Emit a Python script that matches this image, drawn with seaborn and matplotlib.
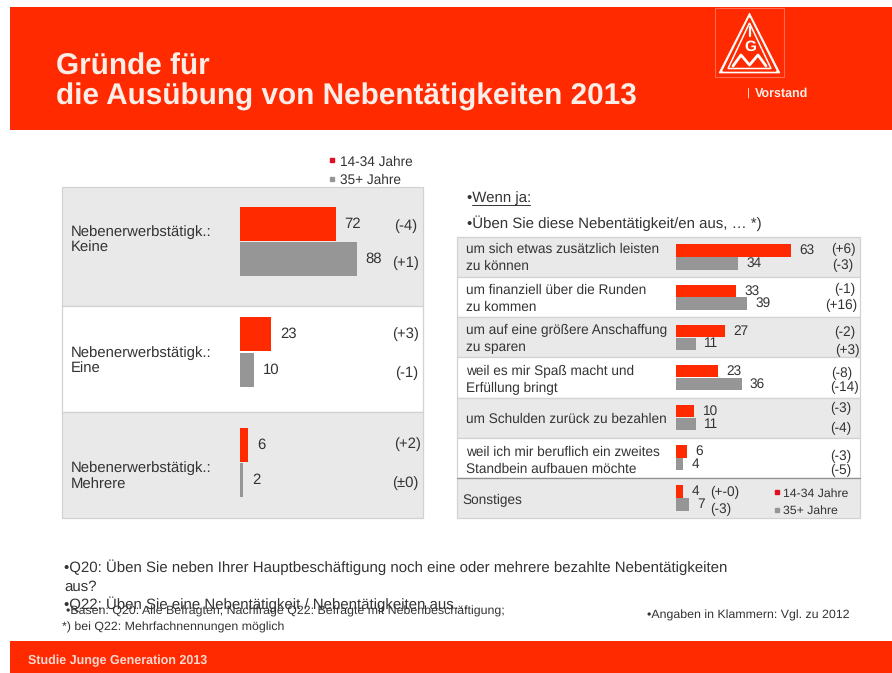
"""Gründe für die Ausübung von Nebentätigkeiten 2013 (IG Metall Folie)."""

import matplotlib
matplotlib.use("Agg")
import matplotlib.pyplot as plt
import pandas as pd
import seaborn as sns
from matplotlib.patches import Polygon, Rectangle

W, H = 892, 673
ROT = "#FF2A00"
GRAU = "#969696"
BAND = "#E9E9E9"
LINIE = "#D2D2D2"
TEXT = "#333333"

GRUPPEN = ["14-34 Jahre", "35+ Jahre"]

# Linkes Panel
links_kat = ["Keine", "Eine", "Mehrere"]
links_jung = [72, 23, 6]
links_alt = [88, 10, 2]
links_delta = ["(-4)", "(+1)", "(+3)", "(-1)", "(+2)", "(±0)"]

# Rechtes Panel
rechts_kat = [
    "um sich etwas zusätzlich leisten\nzu können",
    "um finanziell über die Runden\nzu kommen",
    "um auf eine größere Anschaffung\nzu sparen",
    "weil es mir Spaß macht und\nErfüllung bringt",
    "um Schulden zurück zu bezahlen",
    "weil ich mir beruflich ein zweites\nStandbein aufbauen möchte",
    "Sonstiges",
]
rechts_jung = [63, 33, 27, 23, 10, 6, 4]
rechts_alt = [34, 39, 11, 36, 11, 4, 7]
rechts_delta = ["(+6)", "(-3)", "(-1)", "(+16)", "(-2)", "(+3)", "(-8)", "(-14)",
                "(-3)", "(-4)", "(-3)", "(-5)", "(+-0)", "(-3)"]

# Pixelpositionen der Klammerwerte
links_delta_pos = [(405.5, 226), (405.5, 263), (405.5, 334), (407, 373), (407.5, 444), (405.5, 483)]
rechts_delta_pos = [(843, 249), (843, 265), (845, 289), (841, 305), (845, 332), (847, 350),
                    (842, 373), (845, 387), (841, 408), (841, 428), (841, 456), (841, 470),
                    (725, 492), (721, 509)]
rechts_text_y = [258, 298.5, 339, 379.5, 419.5, 460.5, 500]


def lang_tabelle(kategorien, jung, alt):
    return pd.DataFrame({
        "kategorie": list(kategorien) * 2,
        "wert": list(jung) + list(alt),
        "gruppe": [GRUPPEN[0]] * len(kategorien) + [GRUPPEN[1]] * len(kategorien),
    })


def balken(fig, df, box, px_pro_einheit, fontsize, padding):
    """Balken in ein Achsenfeld zeichnen, box in Pixeln: x0, y0, x1, y1."""
    x0, y0, x1, y1 = box
    ax = fig.add_axes([x0 / W, 1 - y1 / H, (x1 - x0) / W, (y1 - y0) / H])
    ax.patch.set_alpha(0)
    sns.barplot(
        data=df, y="kategorie", x="wert", hue="gruppe", hue_order=GRUPPEN,
        palette=[ROT, GRAU], width=0.64, gap=0.04, saturation=1,
        linewidth=0, legend=False, ax=ax,
    )
    ax.set_xlim(0, (x1 - x0) / px_pro_einheit)
    for cont in ax.containers:
        ax.bar_label(cont, fmt="%g", padding=padding, fontsize=fontsize, color=TEXT)
    ax.axis("off")
    return ax


def logo(ax):
    ax.add_patch(Rectangle((715, 8), 69, 69, fc="none", ec="#FF6A50", lw=0.8))
    ax.add_patch(Polygon([(749.5, 13), (780, 73), (719, 73)], fc="white", ec="white", lw=0.5))
    ax.add_patch(Polygon([(749.5, 18), (776, 71), (723, 71)], fc=ROT, ec=ROT))
    ax.add_patch(Polygon([(749.5, 23), (771, 68.5), (728, 68.5)], fc="none", ec="white", lw=1.1))
    ax.plot([749.5, 749.5], [27, 36], color="white", lw=1.6)
    ax.text(750, 47, "G", color="white", fontsize=11, fontweight="bold", ha="center", va="center")
    ax.plot([733, 741, 749.5, 758, 766], [66, 55, 65, 55, 66], color="white", lw=2)


def main():
    sns.set_theme(style="white")
    plt.rcParams["font.family"] = ["Liberation Sans", "DejaVu Sans"]
    plt.rcParams["text.hinting"] = "no_hinting"

    fig = plt.figure(figsize=(W / 100, H / 100), dpi=100, facecolor="white")
    bg = fig.add_axes([0, 0, 1, 1])
    bg.set_xlim(0, W)
    bg.set_ylim(H, 0)
    bg.axis("off")

    def t(x, y, s, size=9, color=TEXT, **kw):
        kw.setdefault("va", "center")
        bg.text(x, y, s, fontsize=size, color=color, **kw)

    # Kopf und Fuß
    bg.add_patch(Rectangle((10, 7), W - 10, 123, fc=ROT, ec="none"))
    bg.add_patch(Rectangle((10, 641), W - 10, 32, fc=ROT, ec="none"))
    t(56, 75, "Gründe für", size=21.45, color="#FBEDE8", fontweight="bold", va="baseline")
    t(56, 104.5, "die Ausübung von Nebentätigkeiten 2013", size=21.45, color="#FBEDE8",
      fontweight="bold", va="baseline")
    t(747, 94, "|", size=8, color="#FBEDE8")
    t(755, 94, "Vorstand", size=9, color="#FBEDE8", fontweight="bold")
    logo(bg)
    t(28, 661, "Studie Junge Generation 2013", size=9, color="#F8D8D0", fontweight="bold")

    # Bänder links
    for y0, y1, farbe in [(187, 306, BAND), (306, 412, "white"), (412, 518, BAND)]:
        bg.add_patch(Rectangle((62, y0), 361, y1 - y0, fc=farbe, ec=LINIE, lw=0.9))
    # Bänder rechts
    for i in range(7):
        y0 = 237 + i * 40.15
        farbe = BAND if i % 2 == 0 else "white"
        bg.add_patch(Rectangle((457, y0), 403, 40.15, fc=farbe, ec=LINIE, lw=0.9))
    bg.plot([457, 860], [478, 478], color="#909090", lw=0.9)

    # Beschriftung links
    for kat, y in zip(links_kat, [240, 361, 476.5]):
        t(71, y, "Nebenerwerbstätigk.:\n" + kat, size=10.75, linespacing=1.25)
    for s, (x, y) in zip(links_delta, links_delta_pos):
        t(x, y, s, size=10.75, ha="center")

    # Beschriftung rechts
    for kat, y in zip(rechts_kat, rechts_text_y):
        x = 462 if kat == "Sonstiges" else 466
        t(x, y, kat, size=9.85, linespacing=1.39)
    for s, (x, y) in zip(rechts_delta, rechts_delta_pos):
        t(x, y, s, size=9.85, ha="center")

    # Legenden
    for x, y_rot, y_grau, tx, groesse in [(332, 160, 179, 340, 9.85), (777, 492, 510, 783, 8.85)]:
        bg.plot([x], [y_rot], marker="s", ms=3.5, color="#E01020", ls="none")
        bg.plot([x], [y_grau], marker="s", ms=3.2, color=GRAU, ls="none")
        t(tx, y_rot + 2, GRUPPEN[0], size=groesse)
        t(tx, y_grau + 1, GRUPPEN[1], size=groesse)

    # Überschriften rechts
    t(467, 198, "•Wenn ja:", size=10.8)
    bg.plot([472, 530], [205, 205], color=TEXT, lw=0.7)
    t(467, 223, "•Üben Sie diese Nebentätigkeit/en aus, … *)", size=10.8)

    # Fußnoten
    t(64, 567, "•Q20: Üben Sie neben Ihrer Hauptbeschäftigung noch eine oder mehrere bezahlte Nebentätigkeiten", size=10.78)
    t(64, 587, "aus?", size=10.78)
    t(64, 604, "•Q22: Üben Sie eine Nebentätigkeit / Nebentätigkeiten aus…", size=10.78)
    t(66, 611, "•Basen: Q20: Alle Befragten; Nachfrage Q22: Befragte mit Nebenbeschäftigung;", size=8.88)
    t(62, 627, "*) bei Q22: Mehrfachnennungen möglich", size=8.95)
    t(647, 615, "•Angaben in Klammern: Vgl. zu 2012", size=8.9)

    # Balken
    balken(fig, lang_tabelle(links_kat, links_jung, links_alt),
           (240.5, 186, 423, 518), 1.32, 10.75, 6.5)
    balken(fig, lang_tabelle(rechts_kat, rechts_jung, rechts_alt),
           (676, 237, 860, 518), 1.82, 9.85, 6)

    fig.savefig("out.png", dpi=100)
    plt.close(fig)


if __name__ == "__main__":
    main()
